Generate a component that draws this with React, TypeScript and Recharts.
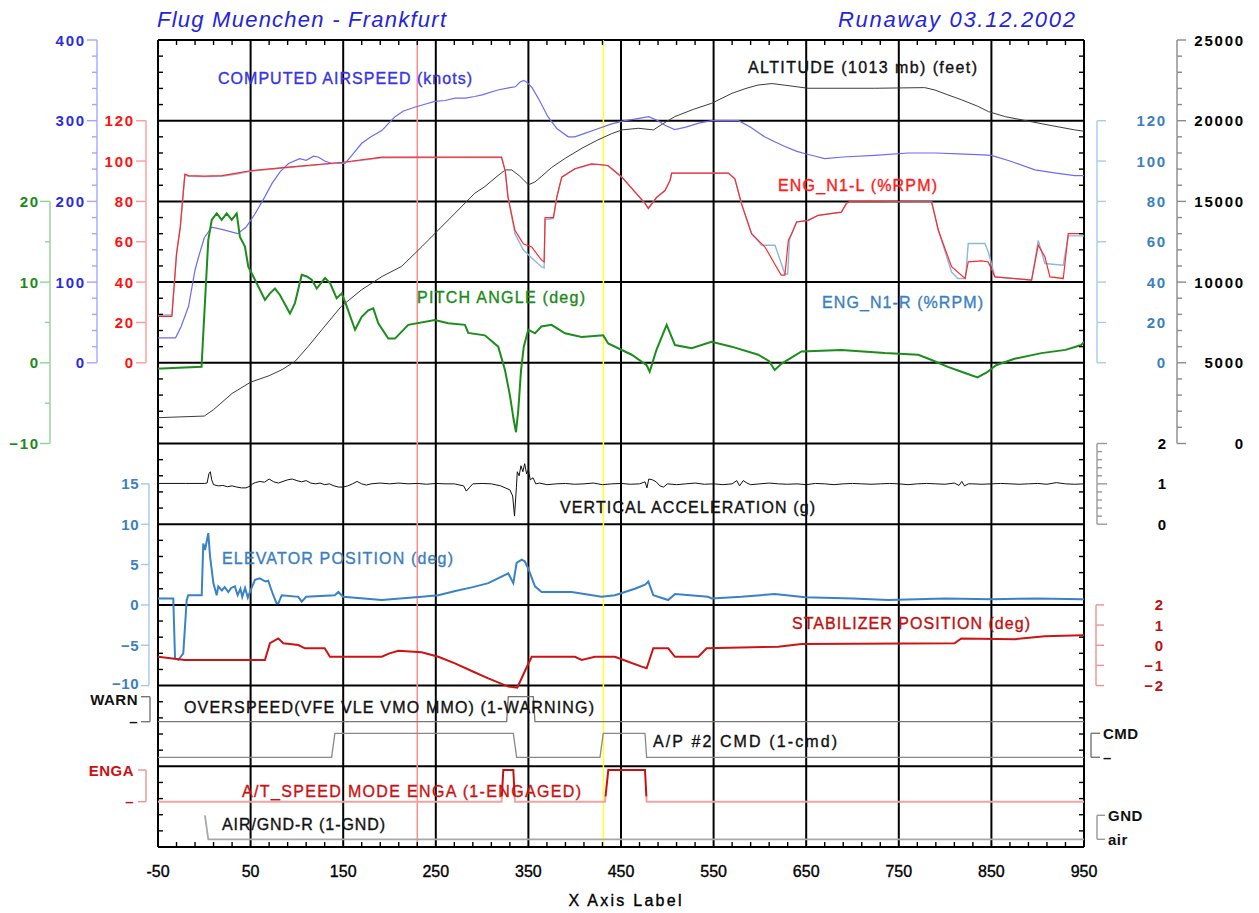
import React from 'react';
import { ComposedChart, Line, XAxis, YAxis, ReferenceLine } from 'recharts';

type Pt = [number, number];

// ---------------- data (x, value) ----------------
const AIRSPEED: Pt[] = [[-50,31],[-31,31],[-25,45],[-17,70],[-10,115],[-6,132],[0,155],[8,168],[20,165],[36,160],[45,168],[55,185],[65,205],[73,222],[82,237],[91,247],[103,253],[110,251],[118,256],[123,255],[130,250],[138,247],[152,247],[160,258],[170,272],[180,280],[192,288],[200,298],[206,305],[215,312],[228,317],[240,321],[249,324],[260,325],[271,328],[282,328],[292,330],[300,332],[317,338],[330,341],[336,342],[341,348],[345,350],[349,347],[354,341],[362,325],[371,305],[381,290],[393,280],[400,280],[410,284],[425,290],[440,296],[454,300],[465,302],[480,305],[490,300],[498,294],[508,289],[520,292],[534,297],[548,300],[577,300],[590,292],[605,280],[616,274],[627,268],[640,262],[649,259],[660,256],[670,253],[690,255],[724,257],[760,260],[790,260],[814,259],[835,258],[850,257],[870,250],[897,239],[920,235],[940,232],[950,232]];

const ALTITUDE: Pt[] = [[-50,1600],[0,1700],[10,2100],[30,3100],[50,3800],[70,4200],[84,4580],[98,5090],[112,6000],[127,7050],[148,8500],[170,9530],[192,10350],[213,10970],[235,12200],[253,13240],[271,14280],[292,15500],[303,15920],[315,16500],[325,16950],[332,16950],[340,16600],[350,16030],[357,16200],[364,16540],[375,17100],[390,17680],[408,18300],[425,18810],[440,19200],[451,19430],[469,19530],[485,19430],[495,19800],[508,20250],[528,20700],[548,21080],[570,21700],[585,22000],[598,22210],[613,22300],[627,22200],[652,22010],[724,22010],[778,22050],[789,21900],[803,21600],[818,21290],[835,20900],[847,20560],[865,20250],[883,20050],[910,19750],[940,19430],[950,19350]];

const N1_L: Pt[] = [[-50,23],[-35,23],[-30,54],[-26,67],[-21,93.5],[-17,92.8],[0,92.5],[19,92.8],[35,94],[51,95.3],[91,97],[150,99.4],[192,101.9],[321,102],[325,95],[328,82],[335.5,65.7],[344.5,59],[353.6,57.4],[364,51],[367,50],[368,72],[377,72],[380.6,82],[386,92],[400,96.2],[418,98.6],[426,98.3],[436,97.8],[451,92],[476,79],[479.5,76.4],[488.5,82],[497.5,85.4],[503,90.4],[504.7,94],[566,94],[573,91.2],[580,79],[591,64],[605.5,57.4],[616,49],[623,43.5],[627,43.5],[630.7,60.7],[634.3,64],[639.7,69.8],[652,70.6],[663,73.1],[688,74.7],[693.7,79.2],[699,80],[785.5,79.7],[792.7,65.7],[807,47.6],[821.5,41.8],[825,50],[839.5,50.5],[846.6,50],[853.8,42.6],[893.4,41],[900.6,58.3],[907.8,52.5],[913.2,42.6],[927.6,41.8],[933,64],[950,64]];

const N1_R: Pt[] = [[-50,23.7],[-35,23.7],[-30,54],[-26,67],[-21,93],[-17,92.5],[0,92.3],[19,92.5],[35,93.6],[51,95],[91,96.8],[150,99.2],[192,101.6],[321,101.8],[325,95],[328,82],[335.5,64],[344.5,56],[353.6,52],[364,47.6],[367,47],[368,71],[377,71.5],[380.6,82],[386,92],[400,96],[418,98.4],[426,98.3],[436,97.6],[451,92],[476,79],[479.5,76.8],[488.5,82],[497.5,85.4],[503,90.4],[504.7,94],[566,94],[573,91.2],[580,79],[591,64],[601.9,58.3],[616.3,58.3],[627,44],[630,44],[632,61],[634.3,64],[639.7,69.8],[652,70.6],[663,73.1],[688,74.7],[693.7,79.2],[699,80],[785.5,79.7],[792.7,65.7],[807,45],[814,41.8],[822,41.8],[825,59.1],[843,59.1],[846.6,55],[853.8,42.6],[893.4,41],[900.6,60.7],[907.8,49.2],[927.6,48.4],[933,62.9],[950,62.9]];

const PITCH: Pt[] = [[-50,-0.7],[-46,-0.7],[-3,-0.5],[4.3,15.2],[8,17.7],[13.4,18.5],[18.8,17.7],[24.2,18.5],[29.6,17.7],[35,18.5],[38.5,15.6],[43.9,14.4],[47.5,11.9],[54.7,10.3],[65.5,7.8],[70.9,8.6],[76.3,9.2],[81.7,8.4],[92.5,6.1],[97.9,7.4],[105.2,10.9],[110.6,10.7],[116,10.3],[121.4,9.2],[130.3,10.5],[135.7,9.9],[142.9,8.0],[148.4,8.6],[153.8,7.0],[162.8,4.1],[170,5.7],[177.1,6.5],[182.5,6.75],[187.9,4.9],[198.7,3.0],[205.9,3.0],[220.3,4.7],[249,5.3],[263.5,4.9],[281.5,4.7],[285,3.7],[303,3.4],[317.4,2.0],[324.7,-0.9],[330,-4],[334,-7],[336.6,-8.6],[339,-6],[342,-1],[345,2],[349.9,4.1],[357.1,3.65],[364,4.5],[375,4.7],[389.5,3.65],[407.5,3.2],[430.8,3.4],[436.2,2.4],[461.5,1.0],[477.7,-0.3],[481,-1.1],[488,1.5],[495,3.5],[499.3,4.7],[508.3,2.2],[526.3,1.8],[547.8,2.6],[569.5,2.0],[598.2,1.0],[610,0.2],[616,-0.9],[623.5,-0.1],[645,1.4],[688,1.6],[735,1.2],[771,1.0],[785.5,0.35],[803,-0.5],[820,-1.2],[835,-1.8],[845,-1.2],[855,-0.3],[875,0.5],[904,1.2],[930,1.6],[947,2.2],[950,2.6]];

const VERT_ACC: Pt[] = [[-50,1.01],[-20,1.01],[0,1.01],[3,1.02],[5,1.25],[6.5,1.3],[8,1.1],[10,0.98],[15,0.95],[20,0.96],[25,0.93],[30,0.95],[35,0.92],[40,0.9],[45,0.9],[50,0.95],[52,1.0],[55,1.03],[60,1.06],[65,1.04],[70,1.12],[75,1.05],[80,1.02],[85,1.06],[90,1.1],[95,1.12],[100,1.08],[105,1.05],[110,1.08],[115,1.02],[120,1.0],[125,1.02],[130,0.98],[135,1.0],[140,0.95],[145,0.92],[150,0.92],[155,0.95],[160,1.0],[165,1.06],[170,1.0],[175,0.97],[180,1.0],[190,1.02],[200,1.0],[210,1.02],[220,1.0],[230,1.01],[240,0.99],[250,1.01],[260,1.0],[270,1.0],[280,0.95],[283,0.82],[286,0.9],[290,1.0],[300,1.01],[310,1.0],[320,0.95],[325,0.9],[330,0.85],[333,0.7],[335,0.2],[337,0.9],[338,1.3],[340,1.2],[342,1.45],[344,1.3],[346,1.5],[348,1.25],[350,1.35],[352,1.1],[355,1.15],[358,1.0],[362,1.02],[370,0.98],[380,1.0],[390,1.01],[400,0.99],[410,1.0],[420,1.02],[430,0.98],[440,1.0],[450,1.01],[460,0.99],[470,1.0],[476,1.05],[478,0.9],[480,1.12],[484,1.1],[488,1.05],[492,0.95],[496,0.92],[500,1.0],[510,0.98],[520,1.0],[530,1.02],[540,0.99],[550,1.0],[560,0.98],[570,1.0],[575,1.08],[578,0.95],[582,1.08],[586,1.02],[590,0.98],[600,1.0],[610,1.02],[620,1.0],[630,0.99],[640,1.0],[650,0.98],[660,1.01],[670,1.0],[680,0.98],[690,1.0],[700,1.01],[710,1.0],[720,0.99],[730,1.0],[740,1.01],[750,1.0],[760,0.98],[770,1.0],[780,1.01],[790,1.0],[800,0.99],[810,1.02],[815,0.96],[818,1.06],[821,0.95],[825,1.0],[830,1.0],[840,0.99],[850,1.0],[860,1.01],[870,1.0],[880,0.99],[890,1.0],[900,1.01],[910,0.99],[920,1.03],[930,1.0],[940,0.99],[950,1.0]];

const ELEVATOR: Pt[] = [[-50,0.8],[-33.5,0.8],[-31.6,-6.6],[-28,-6.8],[-22.7,-6],[-19,0.6],[-17.3,1.2],[-2.8,1.2],[-1.1,7.6],[0.8,6.8],[4.3,8.9],[6.2,6],[9.8,2.7],[13.4,1.2],[15.1,2.3],[19,1.8],[22,2.2],[26,1.6],[29,2.1],[33,2.3],[36,1.2],[39,2.0],[41,1.0],[44,2.1],[47,0.9],[50,1.8],[54.7,3.1],[60,3.3],[66,2.9],[69,3.0],[72,2.0],[74.5,1.2],[78,0.2],[80,0.2],[83.6,1.2],[101.5,1.0],[105.2,0.4],[110,1.0],[141,1.2],[144.7,1.6],[150,1.0],[191.6,0.6],[234.8,1.0],[252.7,1.2],[270,1.7],[290,2.2],[306.7,2.7],[328.3,3.9],[333.7,2.7],[337.3,5.2],[342.7,5.6],[346,5.4],[349.9,4.5],[357.1,2.3],[364.3,1.6],[396.7,1.6],[429,1.0],[443.5,1.2],[465,2.0],[476,2.5],[479.5,2.9],[484.9,1.2],[501,0.6],[508.3,1.35],[544,1.0],[548,0.8],[580,1.0],[616,1.35],[649,0.94],[700,0.8],[739,0.6],[800,0.8],[850,0.7],[900,0.8],[947,0.7],[950,0.7]];

const STABILIZER: Pt[] = [[-50,-0.57],[-21,-0.73],[65.5,-0.73],[70.9,0.1],[79.9,0.34],[85.3,0.1],[101.5,0.01],[108.7,-0.15],[130,-0.15],[135.7,-0.57],[191.6,-0.57],[200,-0.4],[209.6,-0.27],[234.8,-0.35],[252.7,-0.57],[270.7,-0.9],[290,-1.3],[306.7,-1.64],[328.3,-2.05],[338,-2.1],[345,-1.4],[353.5,-0.57],[400.3,-0.57],[407.5,-0.73],[421.9,-0.57],[443.5,-0.57],[457.9,-0.82],[472.3,-1.06],[477.7,-1.14],[484.9,-0.15],[501,-0.15],[508.3,-0.57],[533.5,-0.57],[542.5,-0.15],[619.8,-0.07],[645,0.06],[810.2,0.1],[817.4,0.34],[875.3,0.3],[907.7,0.45],[947.4,0.5],[950,0.5]];

const OVERSPEED: Pt[] = [[-50,0],[326.5,0],[328.3,1],[355.3,1],[357.1,0],[950,0]];
const AP_CMD: Pt[] = [[-50,0],[137.5,0],[141,1],[333.7,1],[337.3,0],[427.3,0],[430.8,1],[475.9,1],[477.7,0],[950,0]];
const AT_SPEED: Pt[] = [[-50,0],[321,0],[322.9,1],[333.7,1],[335.5,0],[432.7,0],[436.3,1],[475.9,1],[477.7,0],[950,0]];
const AIR_GND: Pt[] = [[0.7,1],[4.3,0],[950,0]];

const X_MAJOR = [-50, 50, 150, 250, 350, 450, 550, 650, 750, 850, 950];
const X_GRID = [50, 150, 250, 350, 450, 550, 650, 750, 850];
const MARK_RED = 230;
const MARK_YELLOW = 431;

// ---------------- layout ----------------
const W = 1259, H = 913;
const PLOT = { left: 158, top: 40, right: 1084, bottom: 847 };
const PLOT_H = PLOT.bottom - PLOT.top;
const FONT = '"Liberation Sans", Arial, Helvetica, sans-serif';
const AXW = 1;

const toData = (pts: Pt[]) => pts.map(([x, v]) => ({ x, v }));
const range = (a: number, b: number, s: number) => {
  const out: number[] = [];
  for (let i = 0; a + i * s <= b + 1e-9; i++) out.push(Math.round((a + i * s) * 1000) / 1000);
  return out;
};
const dom = (zeroPx: number, unitPx: number): [number, number] => [-(PLOT.bottom - zeroPx) / unitPx, (zeroPx - PLOT.top) / unitPx];

type AxisSpec = {
  id: string; side: 'left' | 'right'; domain: [number, number]; ticks: number[];
  lineX: number; dir: number; major: number; minor: number; labelX: number; anchor: 'start' | 'end';
  color: string; lineColor: string; isMajor: (v: number) => boolean; fmt: (v: number) => string;
  spacing?: number; dy?: (v: number) => number;
};

const minus = (v: number) => (v < 0 ? '\u2212' + Math.abs(v) : String(v));
const isInt = (v: number) => Math.abs(v - Math.round(v)) < 1e-6;

const AXES: AxisSpec[] = [
  { id: 'spd', side: 'left', domain: [-600, 400], ticks: range(0, 400, 20), lineX: 97, dir: -1, major: 10, minor: 5, labelX: 86, anchor: 'end', color: '#2b2be0', lineColor: '#a6a6ff', isMajor: v => v % 100 === 0, fmt: minus },
  { id: 'n1', side: 'left', domain: [-240, 160], ticks: range(0, 120, 20), lineX: 146, dir: -1, major: 10, minor: 10, labelX: 135, anchor: 'end', color: '#ff1010', lineColor: '#ff9a9a', isMajor: () => true, fmt: minus },
  { id: 'pitch', side: 'left', domain: [-60, 40], ticks: range(-10, 20, 5), lineX: 50, dir: -1, major: 10, minor: 5, labelX: 40, anchor: 'end', color: '#1a8a1a', lineColor: '#98cc98', isMajor: v => v % 10 === 0, fmt: minus },
  { id: 'elev', side: 'left', domain: [-30, 70], ticks: range(-10, 15, 5), lineX: 149, dir: -1, major: 8, minor: 8, labelX: 139, anchor: 'end', color: '#3a80c0', lineColor: '#a6c8e8', isMajor: () => true, fmt: minus, spacing: 0.5, dy: v => (v === -10 ? -2 : 0) },
  { id: 'ovsp', side: 'left', domain: dom(721.7, 25), ticks: [0, 1], lineX: 150, dir: -1, major: 9, minor: 9, labelX: 138, anchor: 'end', color: '#111', lineColor: '#777', isMajor: () => true, fmt: v => (v === 1 ? 'WARN' : '\u2013'), spacing: 0.5, dy: v => (v === 1 ? 3 : 0) },
  { id: 'at', side: 'left', domain: dom(801.7, 31.7), ticks: [0, 1], lineX: 146, dir: -1, major: 8, minor: 8, labelX: 134, anchor: 'end', color: '#cc1010', lineColor: '#f09090', isMajor: () => true, fmt: v => (v === 1 ? 'ENGA' : '\u2013'), spacing: 0.5 },
  { id: 'n1r', side: 'right', domain: [-240, 160], ticks: range(0, 120, 20), lineX: 1097, dir: 1, major: 9, minor: 9, labelX: 1167, anchor: 'end', color: '#3a80c0', lineColor: '#a8cbe8', isMajor: () => true, fmt: minus },
  { id: 'alt', side: 'right', domain: [-25000, 25000], ticks: range(0, 25000, 1000), lineX: 1177, dir: 1, major: 9, minor: 5, labelX: 1245, anchor: 'end', color: '#000', lineColor: '#8a8a8a', isMajor: v => v % 5000 === 0, fmt: minus },
  { id: 'vacc', side: 'right', domain: [-8, 12], ticks: range(0, 2, 0.2), lineX: 1097, dir: 1, major: 10, minor: 5, labelX: 1168, anchor: 'end', color: '#000', lineColor: '#9a9a9a', isMajor: isInt, fmt: v => String(Math.round(v)) },
  { id: 'stab', side: 'right', domain: [-10, 30], ticks: range(-2, 2, 1), lineX: 1096, dir: 1, major: 8, minor: 8, labelX: 1165, anchor: 'end', color: '#c01010', lineColor: '#f09090', isMajor: () => true, fmt: minus },
  { id: 'cmd', side: 'right', domain: dom(757.3, 24), ticks: [0, 1], lineX: 1091, dir: 1, major: 9, minor: 9, labelX: 1103, anchor: 'start', color: '#111', lineColor: '#777', isMajor: () => true, fmt: v => (v === 1 ? 'CMD' : '\u2013'), spacing: 0.5 },
  { id: 'gnd', side: 'right', domain: dom(839.3, 24), ticks: [0, 1], lineX: 1097, dir: 1, major: 8, minor: 8, labelX: 1108, anchor: 'start', color: '#111', lineColor: '#999', isMajor: () => true, fmt: v => (v === 1 ? 'GND' : 'air'), spacing: 0.5 },
];

const makeYTick = (a: AxisSpec) => (p: any) => {
  const v = p.payload.value as number;
  const y = p.y as number;
  const i = a.ticks.findIndex(t => Math.abs(t - v) < 1e-6);
  const next = i >= 0 && i < a.ticks.length - 1 ? a.ticks[i + 1] : null;
  const maj = a.isMajor(v);
  const u = PLOT_H / (a.domain[1] - a.domain[0]);
  const dy = a.dy ? a.dy(v) : 0;
  return (
    <g>
      {next !== null && (
        <line x1={a.lineX} x2={a.lineX} y1={y} y2={y - (next - v) * u} stroke={a.lineColor} strokeWidth={1.4} />
      )}
      <line x1={a.lineX} x2={a.lineX + a.dir * (maj ? a.major : a.minor)} y1={y} y2={y} stroke={a.lineColor} strokeWidth={1.4} />
      {maj && (
        <text x={a.labelX} y={y + dy} textAnchor={a.anchor} dominantBaseline="central" fill={a.color}
          fontSize={15} fontWeight="bold" fontFamily={FONT} letterSpacing={a.spacing ?? 1.8}>{a.fmt(v)}</text>
      )}
    </g>
  );
};

const X_TICKS = range(-50, 950, 20);
const BottomTick = (p: any) => {
  const v = p.payload.value as number;
  const x = p.x as number;
  const major = X_MAJOR.includes(v);
  return (
    <g>
      {!major && <line x1={x} x2={x} y1={PLOT.bottom} y2={PLOT.bottom - 5} stroke="#000" strokeWidth={1.4} />}
      {major && (
        <text x={x} y={PLOT.bottom + 24} textAnchor="middle" dominantBaseline="central" fill="#000"
          stroke="#000" strokeWidth={0.35} fontSize={16} fontFamily={FONT}>{v}</text>
      )}
    </g>
  );
};
const TopTick = (p: any) => {
  const v = p.payload.value as number;
  const x = p.x as number;
  if (X_MAJOR.includes(v)) return <g />;
  return <line x1={x} x2={x} y1={PLOT.top} y2={PLOT.top + 5} stroke="#000" strokeWidth={1.4} />;
};
const FRAME_TICKS = range(0, 10, 0.2);
const LeftFrameTick = (p: any) => {
  const v = p.payload.value as number;
  if (isInt(v)) return <g />;
  return <line x1={PLOT.left} x2={PLOT.left + 5} y1={p.y} y2={p.y} stroke="#000" strokeWidth={1.4} />;
};
const RightFrameTick = (p: any) => {
  const v = p.payload.value as number;
  if (isInt(v)) return <g />;
  return <line x1={PLOT.right} x2={PLOT.right - 5} y1={p.y} y2={p.y} stroke="#000" strokeWidth={1.4} />;
};

type Series = { key: string; axis: string; pts: Pt[]; color: string; width: number };
const SERIES: Series[] = [
  { key: 'alt', axis: 'alt', pts: ALTITUDE, color: '#3c3c3c', width: 1 },
  { key: 'spd', axis: 'spd', pts: AIRSPEED, color: '#6b6bf5', width: 1.2 },
  { key: 'n1r', axis: 'n1', pts: N1_R, color: '#8ab8e2', width: 1.4 },
  { key: 'n1l', axis: 'n1', pts: N1_L, color: '#ff2a2a', width: 1.2 },
  { key: 'pitch', axis: 'pitch', pts: PITCH, color: '#1c8c1c', width: 2 },
  { key: 'vacc', axis: 'vacc', pts: VERT_ACC, color: '#111', width: 1 },
  { key: 'elev', axis: 'elev', pts: ELEVATOR, color: '#3a82c8', width: 2 },
  { key: 'stab', axis: 'stab', pts: STABILIZER, color: '#cc1414', width: 2 },
  { key: 'ovsp', axis: 'ovsp', pts: OVERSPEED, color: '#777', width: 1.3 },
  { key: 'ap', axis: 'cmd', pts: AP_CMD, color: '#888', width: 1.3 },
  { key: 'at', axis: 'at', pts: AT_SPEED, color: 'url(#atGrad)', width: 2 },
  { key: 'gnd', axis: 'gnd', pts: AIR_GND, color: '#a8a8a8', width: 1.8 },
];

type Lbl = { t: string; x: number; y: number; len: number; color: string };
const LABELS: Lbl[] = [
  { t: 'COMPUTED  AIRSPEED  (knots)', x: 218, y: 78, len: 254, color: '#3535e5' },
  { t: 'ALTITUDE  (1013  mb)  (feet)', x: 748, y: 67, len: 229, color: '#111' },
  { t: 'ENG_N1-L  (%RPM)', x: 778, y: 185, len: 159, color: '#ff1a1a' },
  { t: 'ENG_N1-R  (%RPM)', x: 822, y: 302, len: 161, color: '#3a80c0' },
  { t: 'PITCH  ANGLE  (deg)', x: 417, y: 297, len: 168, color: '#1a8a1a' },
  { t: 'VERTICAL  ACCELERATION  (g)', x: 560, y: 507, len: 255, color: '#111' },
  { t: 'ELEVATOR  POSITION  (deg)', x: 222, y: 558, len: 231, color: '#3a80c0' },
  { t: 'STABILIZER  POSITION  (deg)', x: 792, y: 623, len: 238, color: '#c01010' },
  { t: 'OVERSPEED(VFE  VLE  VMO  MMO)  (1-WARNING)', x: 184, y: 707, len: 410, color: '#111' },
  { t: 'A/P  #2  CMD  (1-cmd)', x: 653, y: 741, len: 184, color: '#111' },
  { t: 'A/T_SPEED  MODE  ENGA  (1-ENGAGED)', x: 242, y: 791, len: 339, color: '#cc1111' },
  { t: 'AIR/GND-R  (1-GND)', x: 222, y: 824, len: 163, color: '#111' },
];

const LEFT_AXES = AXES.filter(a => a.side === 'left');
const RIGHT_AXES = AXES.filter(a => a.side === 'right');

export default function App() {
  const nLeft = LEFT_AXES.length + 1;
  const nRight = RIGHT_AXES.length + 1;
  return (
    <div style={{ position: 'absolute', left: 0, top: 0, width: W, height: H, background: '#fff' }}>
      <svg width={0} height={0} style={{ position: 'absolute' }}>
        <defs>
          <linearGradient id="atGrad" gradientUnits="userSpaceOnUse" x1="0" y1="760" x2="0" y2="812">
            <stop offset="0" stopColor="#c81010" />
            <stop offset="0.69" stopColor="#c81010" />
            <stop offset="0.71" stopColor="#f2a2a2" />
            <stop offset="1" stopColor="#f2a2a2" />
          </linearGradient>
        </defs>
      </svg>
      <ComposedChart width={W} height={H}
        margin={{ top: PLOT.top - AXW, left: PLOT.left - nLeft * AXW, right: W - PLOT.right - nRight * AXW, bottom: 0 }}>
        <XAxis xAxisId="x" type="number" dataKey="x" domain={[-50, 950]} allowDataOverflow ticks={X_TICKS} interval={0}
          height={H - PLOT.bottom} tickSize={0} tickMargin={0} tickLine={false}
          axisLine={{ stroke: '#000', strokeWidth: 2 }} tick={BottomTick} />
        <XAxis xAxisId="xt" orientation="top" type="number" dataKey="x" domain={[-50, 950]} allowDataOverflow ticks={X_TICKS} interval={0}
          height={AXW} tickSize={0} tickMargin={0} tickLine={false} axisLine={false} tick={TopTick} />
        <YAxis yAxisId="gridL" orientation="left" type="number" domain={[0, 10]} allowDataOverflow ticks={FRAME_TICKS} interval={0}
          width={AXW} tickSize={0} tickMargin={0} tickLine={false} axisLine={false} tick={LeftFrameTick} />
        <YAxis yAxisId="gridR" orientation="right" type="number" domain={[0, 10]} allowDataOverflow ticks={FRAME_TICKS} interval={0}
          width={AXW} tickSize={0} tickMargin={0} tickLine={false} axisLine={false} tick={RightFrameTick} />
        {AXES.map(a => (
          <YAxis key={a.id} yAxisId={a.id} orientation={a.side} type="number" domain={a.domain} allowDataOverflow
            ticks={a.ticks} interval={0} width={AXW} tickSize={0} tickMargin={0} tickLine={false} axisLine={false}
            tick={makeYTick(a)} />
        ))}
        {range(0, 10, 1).map(k => (
          <ReferenceLine key={'h' + k} xAxisId="x" yAxisId="gridL" y={k} stroke="#000" strokeWidth={2} />
        ))}
        {[-50, ...X_GRID, 950].map(v => (
          <ReferenceLine key={'v' + v} xAxisId="x" yAxisId="gridL" x={v} stroke="#000" strokeWidth={2} />
        ))}
        <ReferenceLine xAxisId="x" yAxisId="gridL" x={MARK_RED} stroke="#ff8c8c" strokeWidth={1.5} />
        <ReferenceLine xAxisId="x" yAxisId="gridL" x={MARK_YELLOW} stroke="#ffff30" strokeWidth={1.5} />
        {SERIES.map(s => (
          <Line key={s.key} xAxisId="x" yAxisId={s.axis} data={toData(s.pts)} dataKey="v" type="linear"
            stroke={s.color} strokeWidth={s.width} dot={false} activeDot={false} isAnimationActive={false} />
        ))}
      </ComposedChart>
      <svg width={W} height={H} style={{ position: 'absolute', left: 0, top: 0, pointerEvents: 'none' }}>
        <text x={157} y={27} fill="#2424dc" fontSize={22} fontStyle="italic" fontFamily={FONT}
          textLength={289} lengthAdjust="spacing">Flug Muenchen - Frankfurt</text>
        <text x={838} y={27} fill="#2424dc" fontSize={22} fontStyle="italic" fontFamily={FONT}
          textLength={237} lengthAdjust="spacing">Runaway 03.12.2002</text>
        {LABELS.map(l => (
          <text key={l.t} x={l.x} y={l.y} fill={l.color} stroke={l.color} strokeWidth={0.35} fontSize={16}
            fontFamily={FONT} dominantBaseline="central" textLength={l.len} lengthAdjust="spacing">{l.t}</text>
        ))}
        <text x={625} y={900} fill="#000" stroke="#000" strokeWidth={0.35} fontSize={16} fontFamily={FONT}
          textAnchor="middle" dominantBaseline="central" textLength={113} lengthAdjust="spacing">X Axis Label</text>
      </svg>
    </div>
  );
}
